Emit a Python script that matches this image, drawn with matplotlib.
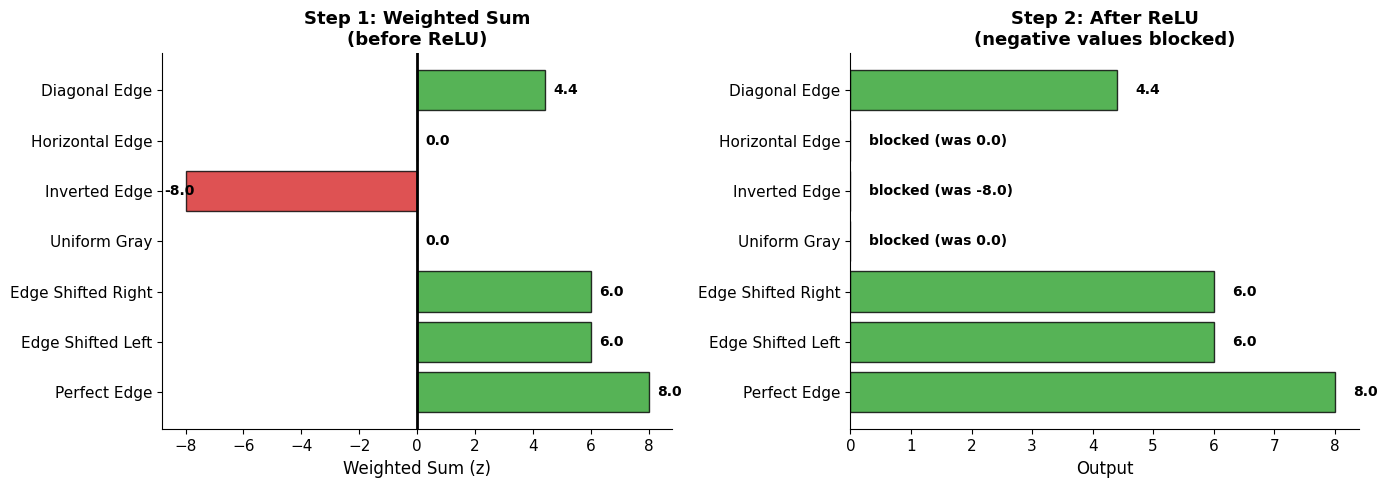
import matplotlib
matplotlib.use("Agg")
import matplotlib.pyplot as plt
import numpy as np

categories = ["Perfect Edge", "Edge Shifted Left", "Edge Shifted Right", "Uniform Gray",
              "Inverted Edge", "Horizontal Edge", "Diagonal Edge"]
weighted_sum = [8.0, 6.0, 6.0, 0.0, -8.0, 0.0, 4.4]
relu_out = [max(0.0, v) for v in weighted_sum]

green = "#2ca02c"
red = "#d62728"

fig, (ax1, ax2) = plt.subplots(1, 2, figsize=(13.86, 4.87), dpi=100)
y = np.arange(len(categories))

colors1 = [green if v > 0 else red for v in weighted_sum]
ax1.barh(y, weighted_sum, color=colors1, alpha=0.8, edgecolor="black", height=0.8)
ax1.axvline(0, color="black", linewidth=2)
for i, v in enumerate(weighted_sum):
    if v >= 0:
        ax1.text(v + 0.3, i, f"{v:.1f}", va="center", ha="left", fontsize=10, fontweight="bold")
    else:
        ax1.text(v - 0.75, i, f"{v:.1f}", va="center", ha="left", fontsize=10, fontweight="bold")
ax1.set_yticks(y)
ax1.set_yticklabels(categories, fontsize=11)
ax1.tick_params(axis="x", labelsize=11)
ax1.set_xlabel("Weighted Sum (z)", fontsize=12)
ax1.set_title("Step 1: Weighted Sum\n(before ReLU)", fontsize=13, fontweight="bold")
ax1.spines["top"].set_visible(False)
ax1.spines["right"].set_visible(False)

ax2.barh(y, relu_out, color=green, alpha=0.8, edgecolor="black", height=0.8)
for i, (v, z) in enumerate(zip(relu_out, weighted_sum)):
    if z > 0:
        ax2.text(v + 0.3, i, f"{v:.1f}", va="center", ha="left", fontsize=10, fontweight="bold")
    else:
        ax2.text(0.3, i, f"blocked (was {z:.1f})", va="center", ha="left", fontsize=10, fontweight="bold")
ax2.set_yticks(y)
ax2.set_yticklabels(categories, fontsize=11)
ax2.tick_params(axis="x", labelsize=11)
ax2.set_xlim(0, 8.4)
ax2.set_xlabel("Output", fontsize=12)
ax2.set_title("Step 2: After ReLU\n(negative values blocked)", fontsize=13, fontweight="bold")
ax2.spines["top"].set_visible(False)
ax2.spines["right"].set_visible(False)

ax1.set_position([0.1172, 0.1181, 0.3676, 0.7731])
ax2.set_position([0.6136, 0.1181, 0.3669, 0.7731])

plt.savefig("out.png", dpi=100)
